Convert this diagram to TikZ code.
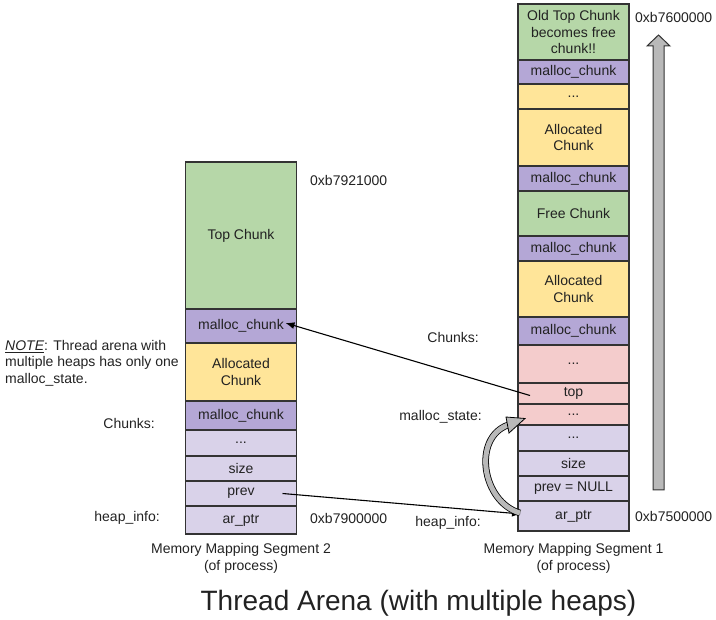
\documentclass[tikz,border=0pt]{standalone}
\usepackage{fontspec}
\setmainfont{Liberation Sans}
\usetikzlibrary{arrows.meta,positioning}
\definecolor{topgreen}{HTML}{B6D7A8}
\definecolor{chunkpurple}{HTML}{B4A7D6}
\definecolor{allocyellow}{HTML}{FFE599}
\definecolor{statepink}{HTML}{F4CCCC}
\definecolor{infolilac}{HTML}{D9D2E9}
\definecolor{edge}{HTML}{333333}
\definecolor{ink}{HTML}{222222}
\newcommand{\cellfont}{\fontsize{14}{16.5}\selectfont}

\begin{document}
\begin{tikzpicture}[x=1pt, y=-1pt, font=\cellfont,
  cell/.style={draw=edge, line width=1.2pt, minimum width=111pt, inner sep=0pt,
    outer sep=0pt, anchor=north, align=center, text=ink},
  tag/.style={text=ink, inner sep=0pt},
  ptr/.style={-{Latex[length=9pt,width=7pt]}, line width=1.1pt, black}]
\useasboundingbox (0,0) rectangle (716,620);

% segment 2 (left heap)
\node[cell, fill=topgreen, minimum height=147] (topL) at (241,162) {Top Chunk};
\node[cell, fill=chunkpurple, minimum height=34, below=0pt of topL] (mcL1) {malloc\_chunk};
\node[cell, fill=allocyellow, minimum height=58, below=0pt of mcL1] (allocL) {Allocated\\Chunk};
\node[cell, fill=chunkpurple, minimum height=29, below=0pt of allocL] (mcL2) {malloc\_chunk};
\node[cell, fill=infolilac, minimum height=26, below=0pt of mcL2] (dotsL) {...};
\node[cell, fill=infolilac, minimum height=25, below=0pt of dotsL] (sizeL) {size};
\node[cell, fill=infolilac, minimum height=25, below=0pt of sizeL] (prevL) {prev};
\node[cell, fill=infolilac, minimum height=28, below=0pt of prevL] (arL) {ar\_ptr};

% segment 1 (right heap)
\node[cell, fill=topgreen, minimum height=56] (oldtopR) at (573.5,4) {Old Top Chunk\\becomes free\\chunk!!};
\node[cell, fill=chunkpurple, minimum height=24, below=0pt of oldtopR] (mcR1) {malloc\_chunk};
\node[cell, fill=allocyellow, minimum height=25, below=0pt of mcR1] (dotsR1) {...};
\node[cell, fill=allocyellow, minimum height=57, below=0pt of dotsR1] (allocR1) {Allocated\\Chunk};
\node[cell, fill=chunkpurple, minimum height=25, below=0pt of allocR1] (mcR2) {malloc\_chunk};
\node[cell, fill=topgreen, minimum height=45, below=0pt of mcR2] (freeR) {Free Chunk};
\node[cell, fill=chunkpurple, minimum height=25, below=0pt of freeR] (mcR3) {malloc\_chunk};
\node[cell, fill=allocyellow, minimum height=56, below=0pt of mcR3] (allocR2) {Allocated\\Chunk};
\node[cell, fill=chunkpurple, minimum height=28, below=0pt of allocR2] (mcR4) {malloc\_chunk};
\node[cell, fill=statepink, minimum height=38, below=0pt of mcR4] (dotsR2) {...};
\node[cell, fill=statepink, minimum height=21, below=0pt of dotsR2] (topR) {top};
\node[cell, fill=statepink, minimum height=21, below=0pt of topR] (dotsR3) {...};
\node[cell, fill=infolilac, minimum height=26, below=0pt of dotsR3] (dotsR4) {...};
\node[cell, fill=infolilac, minimum height=25, below=0pt of dotsR4] (sizeR) {size};
\node[cell, fill=infolilac, minimum height=25, below=0pt of sizeR] (prevR) {prev = NULL};
\node[cell, fill=infolilac, minimum height=30, below=0pt of prevR] (arR) {ar\_ptr};

% addresses
\node[tag, anchor=west] (addrL1) at (310,180) {0xb7921000};
\node[tag, anchor=west] (addrL0) at (310,518) {0xb7900000};
\node[tag, anchor=west] (addrR1) at (635,18) {0xb7600000};
\node[tag, anchor=west] (addrR0) at (635,516) {0xb7500000};

% side labels
\node[tag, anchor=east] (chunksL) at (155,423) {Chunks:};
\node[tag, anchor=east] (infoL) at (160,518) {heap\_info:};
\node[tag, anchor=east] (chunksR) at (479,337) {Chunks:};
\node[tag, anchor=east] (stateR) at (482,417) {malloc\_state:};
\node[tag, anchor=east] (infoR) at (481,523) {heap\_info:};
\node[tag, anchor=west, align=left] (note) at (5,363)
  {\underline{\textit{NOTE}}: Thread arena with\\multiple heaps has only one\\malloc\_state.};

% captions
\node[tag, align=center] (capL) at (241,558.5) {Memory Mapping Segment 2\\(of process)};
\node[tag, align=center] (capR) at (573.5,558.5) {Memory Mapping Segment 1\\(of process)};
\node[tag, font=\fontsize{28}{32}\selectfont] (title) at (418.5,603) {Thread Arena (with multiple heaps)};

% growth arrow
\draw[draw=edge, line width=1pt, fill=gray!55, line join=miter]
  (653,490) -- (653,46) -- (647,46) -- (658.5,35) -- (670,46) -- (664,46) -- (664,490) -- cycle;

% pointers
\draw[ptr] ([xshift=-14pt]prevL.east) -- ([xshift=3pt,yshift=2pt]arR.west);
\draw[ptr] ([xshift=12pt,yshift=-2pt]topR.west) -- ([xshift=-11pt,yshift=3pt]mcL1.east);

% ar_ptr -> malloc_state
\coordinate (headtip) at ([xshift=7pt,yshift=-4pt]dotsR3.west);
\draw[draw=black, line width=0.8pt, double=gray!55, double distance=5pt]
  ([xshift=2pt,yshift=3pt]arR.west) .. controls +(-38,-11) and +(-36,13) .. ([xshift=-17pt,yshift=-6.5pt]headtip);
\draw[draw=black, line width=0.8pt, fill=gray!55, line join=miter]
  (headtip) -- ++(-19,-1.5) -- ++(3,16) -- cycle;
\end{tikzpicture}
\end{document}
